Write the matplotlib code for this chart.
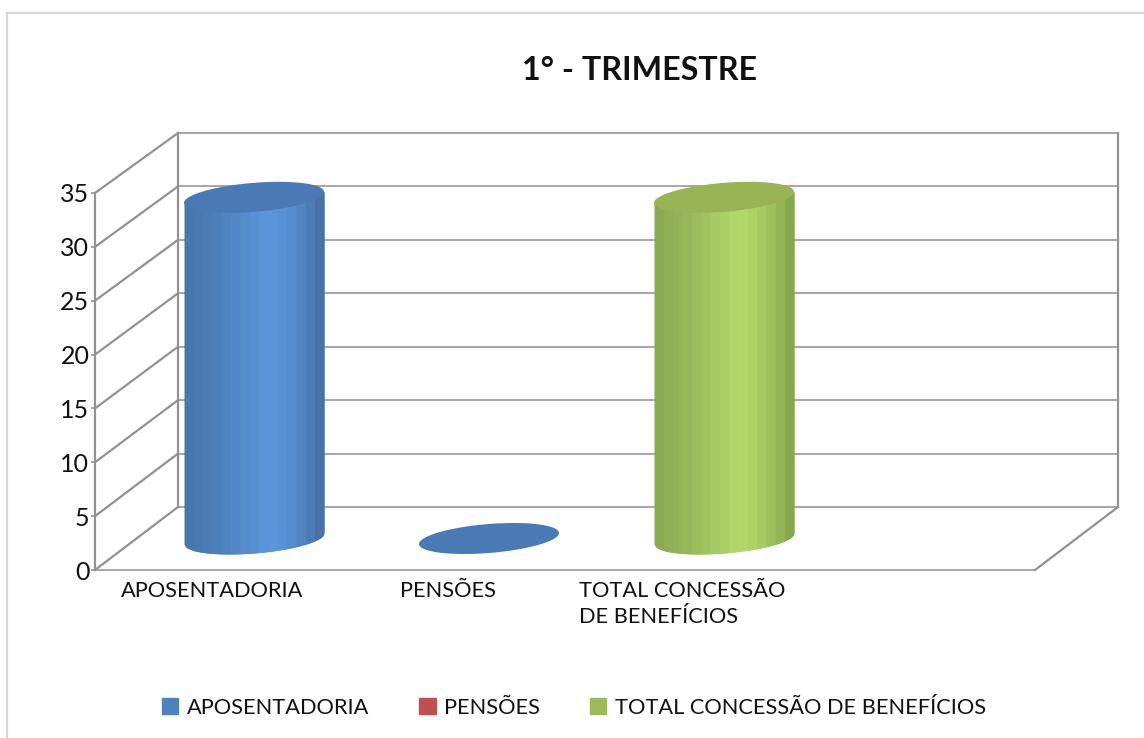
import numpy as np
import matplotlib
matplotlib.use("Agg")
import matplotlib.pyplot as plt
from matplotlib.lines import Line2D
from matplotlib.patches import Patch
from matplotlib.colors import to_rgb

plt.rcParams['font.family'] = ['Lato', 'DejaVu Sans']

title = "1° - TRIMESTRE"
categories = ["APOSENTADORIA", "PENSÕES", "TOTAL CONCESSÃO\nDE BENEFÍCIOS"]
values = [31.8, 0, 31.8]
y_ticks = [0, 5, 10, 15, 20, 25, 30, 35]
legend_labels = ["APOSENTADORIA", "PENSÕES", "TOTAL CONCESSÃO DE BENEFÍCIOS"]
legend_colors = ["#4f81bd", "#c0504d", "#9bbb59"]

# top, edge left, peak, edge right
blue = ("#4a7ab5", "#4775ab", "#5b97dd", "#446b9f")
green = ("#98b455", "#8aa853", "#b2d96a", "#80a048")
bar_styles = [blue, blue, green]

W, H = 1144, 738
N_CATS = 4
N_BANDS = 15
FONT = 15.7

# pixels per unit, used for the fake 3d offsets
PX_X = 940 / N_CATS
PX_Y = 377 / 35
RX = 70 / PX_X
RY = 14.5 / PX_Y
TILT = 5.5 / PX_Y


def project(x, v, d):
    # oblique projection, d=0 front of the floor, d=1 back wall
    return x + d * 83 / PX_X, v + d * (63 - 3 * v / 35) / PX_Y


def shade(style, t):
    left, peak, right = [np.array(to_rgb(c)) for c in style[1:]]
    if t < 0.6:
        return left + (peak - left) * (t / 0.6) ** 1.2
    return peak + (right - peak) * ((t - 0.6) / 0.4) ** 1.6


def draw_walls(ax):
    grid = dict(color="#a6a6a6", lw=1.4, solid_capstyle="projecting", clip_on=False, zorder=1)
    dark = dict(color="#929292", lw=1.6, solid_capstyle="projecting", clip_on=False, zorder=1.1)
    for v in y_ticks:
        x0, y0 = project(0, v, 0)
        x1, y1 = project(0, v, 1)
        x2, y2 = project(N_CATS, v, 1)
        ax.plot([x0, x1], [y0, y1], **dark)
        ax.plot([x1, x2], [y1, y2], **grid)
    for x, d in [(0, 0), (0, 1), (N_CATS, 1)]:
        xa, ya = project(x, 0, d)
        xb, yb = project(x, 35, d)
        ax.plot([xa, xb], [ya, yb], **dark)
    ax.plot([0, N_CATS], [0, 0], **grid)
    xa, ya = project(N_CATS, 0, 0)
    xb, yb = project(N_CATS, 0, 1)
    ax.plot([xa, xb], [ya, yb], **dark)


def draw_cylinder(ax, i, value, style):
    cx, base = project(i + 0.5, 0, 0.5)
    top = project(i + 0.5, value, 0.5)[1]
    if value > 0:
        edges = np.linspace(cx - RX, cx + RX, N_BANDS + 1)
        for k in range(N_BANDS):
            # run each band under the next one so no seams show
            right = edges[min(k + 2, N_BANDS)]
            xs = np.linspace(edges[k], right, 14)
            u = np.clip((xs - cx) / RX, -1, 1)
            low = base + TILT * u - RY * np.sqrt(1 - u ** 2)
            high = top + TILT * u
            c = shade(style, (k + 0.5) / N_BANDS)
            ax.fill_between(xs, low, high, color=c, lw=0, clip_on=False, zorder=3)
    t = np.linspace(0, 2 * np.pi, 200)
    ax.fill(cx + RX * np.cos(t), top + RY * np.sin(t) + TILT * np.cos(t),
            color=style[0], lw=0, clip_on=False, zorder=4)


fig = plt.figure(figsize=(W / 100, H / 100), dpi=100)
ax = fig.add_axes([95 / W, 1 - 570 / H, 940 / W, 377 / H])
ax.set_xlim(0, N_CATS)
ax.set_ylim(0, 35)
for s in ax.spines.values():
    s.set_visible(False)

draw_walls(ax)
for i in range(len(values)):
    draw_cylinder(ax, i, values[i], bar_styles[i])

ax.set_yticks(y_ticks)
ax.set_xticks([i + 0.5 for i in range(len(categories))])
ax.set_xticklabels(categories, multialignment="left", linespacing=1.35)
ax.tick_params(axis="y", length=3, width=1.2, color="#929292", pad=1.0, labelsize=18, labelcolor="#111111")
ax.tick_params(axis="x", length=0, pad=8.2, labelsize=FONT, labelcolor="#111111")

fig.text(640 / W, 1 - 71 / H, title, ha="center", va="center", fontsize=23.2, fontweight="bold", color="#111111")

handles = [Patch(color=c) for c in legend_colors]
fig.legend(handles, legend_labels, ncol=3, loc="center", bbox_to_anchor=(574 / W, 1 - 708 / H),
           frameon=False, fontsize=FONT, handlelength=0.75, handleheight=0.75, handletextpad=0.38,
           columnspacing=2.3, labelcolor="#111111")

# frame of the pasted picture, only left and top show
fig.add_artist(Line2D([7 / W, 7 / W], [0, 1 - 13 / H], color="#d6d6d6", lw=1.6, transform=fig.transFigure))
fig.add_artist(Line2D([7 / W, 1], [1 - 13 / H, 1 - 13 / H], color="#d6d6d6", lw=1.6, transform=fig.transFigure))

fig.savefig("out.png", dpi=100)
